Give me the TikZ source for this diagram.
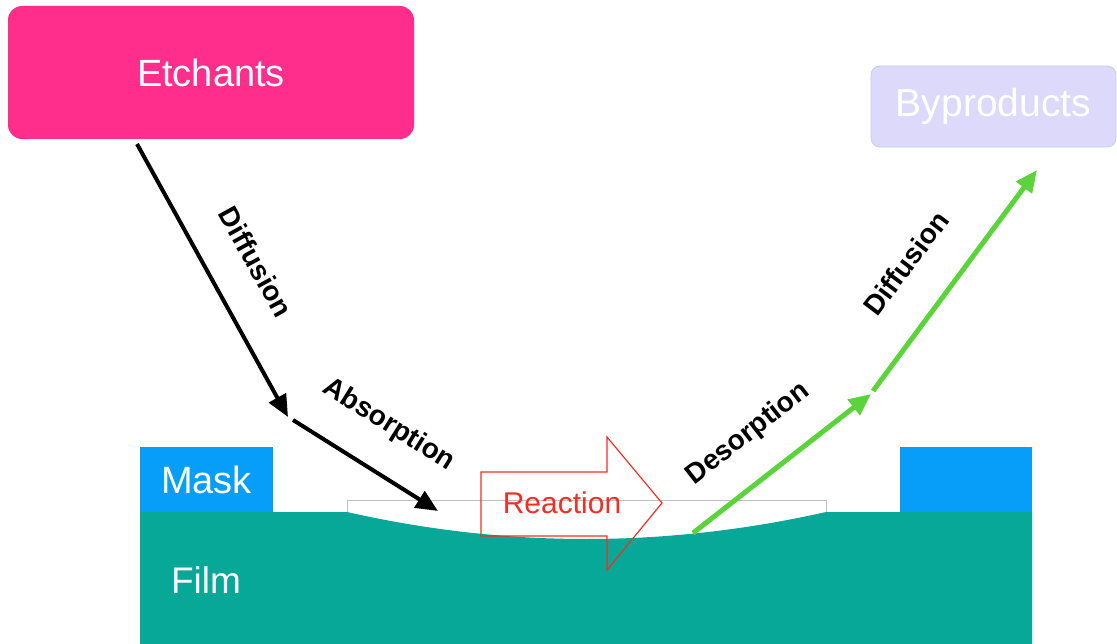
\documentclass[tikz,border=0pt]{standalone}
\usepackage{fontspec}
\setmainfont{Liberation Sans}
\usetikzlibrary{arrows.meta,positioning}

\definecolor{etchpink}{RGB}{255,45,140}
\definecolor{bylilac}{RGB}{221,217,250}
\definecolor{byedge}{RGB}{205,202,228}
\definecolor{maskblue}{RGB}{6,158,249}
\definecolor{filmteal}{RGB}{8,168,153}
\definecolor{reactred}{RGB}{238,48,36}
\definecolor{flowgreen}{RGB}{90,212,58}

\begin{document}
\begin{tikzpicture}[x=1pt,y=-1pt,>={Triangle[length=22pt,width=19pt]},semithick]
        \tikzstyle{species}=[rounded corners=14pt,text=white,inner sep=0pt,font=\fontsize{38}{44}\selectfont]
        \tikzstyle{layer}=[fill=maskblue,text=white,inner sep=0pt,font=\fontsize{38}{44}\selectfont]
        \tikzstyle{stagelabel}=[font=\bfseries\fontsize{28}{32}\selectfont,inner sep=0pt]
        \tikzstyle{flow}=[->,line width=4pt,black]
        \tikzstyle{greenflow}=[flow,line width=5pt,flowgreen]
        \useasboundingbox (0,0) rectangle (1117,644);
        % film with etched recess
        \fill[filmteal] (140,512) -- (347,512) .. controls (506,548) and (666,548) .. (826,512) -- (1032,512) -- (1032,644) -- (140,644) -- cycle;
        \node[text=white,font=\fontsize{37}{42}\selectfont] (film) at (206,580) {Film};
        \draw[gray!50,line width=0.8pt] (347,512) -- (347,500) -- (826,500) -- (826,512);
        % mask
        \node[layer,minimum width=133pt,minimum height=65pt] (maskL) at (206.5,479.5) {Mask};
        \node[layer,minimum width=132pt,minimum height=65pt] (maskR) at (966,479.5) {};
        % sources
        \node[species,fill=etchpink,minimum width=406pt,minimum height=133pt] (etchants) at (211,72.5) {Etchants};
        \node[species,rounded corners=9pt,fill=bylilac,draw=byedge,line width=0.8pt,minimum width=245pt,minimum height=81pt,font=\fontsize{39}{44}\selectfont] (byproducts) at (993.5,106.5) {Byproducts};
        % reaction
        \draw[reactred,line width=1.2pt] (481,472) -- (607,472) -- (607,437) -- (662,503) -- (607,570) -- (607,536) -- (481,536) -- cycle;
        \node[text=reactred,inner sep=0pt,font=\fontsize{30}{34}\selectfont] (reaction) at (562,503) {Reaction};
        % transport steps
        \coordinate (diffS) at (137,144);
        \coordinate (diffE) at (288,417);
        \coordinate (absS) at (293,420);
        \coordinate (absE) at (438,511);
        \coordinate (desS) at (693,533);
        \coordinate (desE) at (871,394);
        \coordinate (outS) at (873,391);
        \coordinate (outE) at (1037,170);
        \draw[flow] (diffS) -- (diffE);
        \draw[flow] (absS) -- (absE);
        \draw[greenflow] (desS) -- (desE);
        \draw[greenflow] (outS) -- (outE);
        \node[stagelabel,rotate=-61] (diffin) at (256,262) {Diffusion};
        \node[stagelabel,rotate=-32] (absorb) at (389,425) {Absorption};
        \node[stagelabel,rotate=38] (desorb) at (748,434) {Desorption};
        \node[stagelabel,rotate=53] (diffout) at (906,263) {Diffusion};
\end{tikzpicture}
\end{document}
